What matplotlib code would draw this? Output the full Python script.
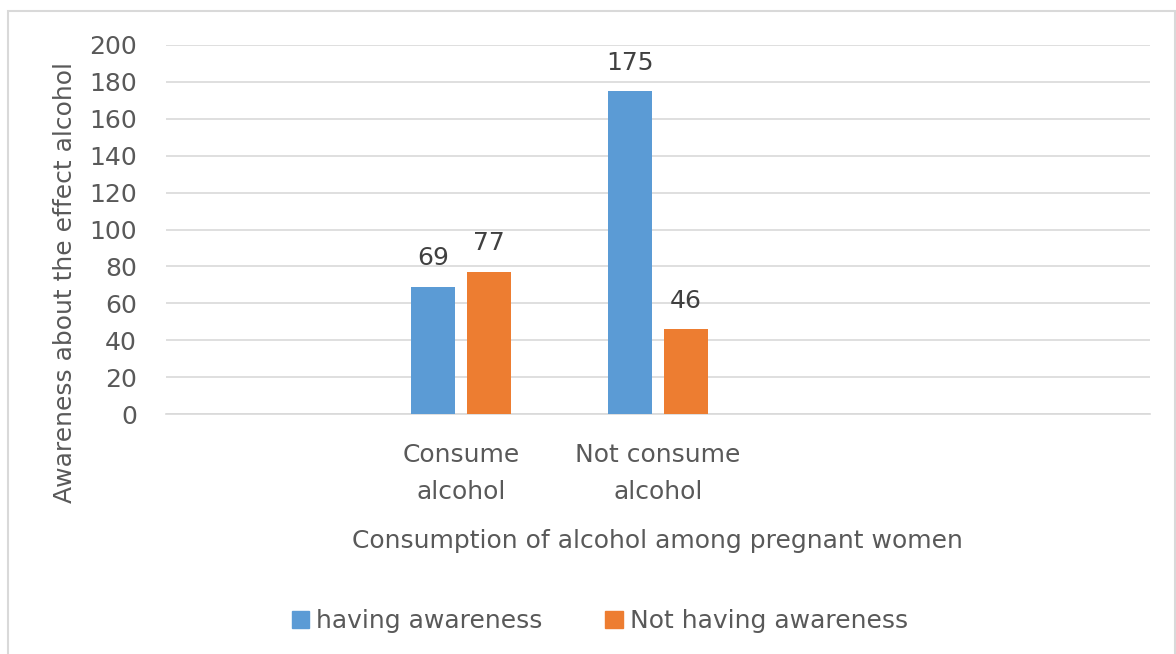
import matplotlib
matplotlib.use("Agg")
import matplotlib.pyplot as plt
from matplotlib.patches import Rectangle
import numpy as np

categories = ["", "Consume\nalcohol", "Not consume\nalcohol", "", ""]
having = [None, 69, 175, None, None]
not_having = [None, 77, 46, None, None]
series_names = ["having awareness", "Not having awareness"]
yticks = [0, 20, 40, 60, 80, 100, 120, 140, 160, 180, 200]

plt.rcParams['font.family'] = ['DejaVu Sans']
txt = '#595959'
blue = '#5b9bd5'
orange = '#ed7d31'
fs = 18

fig = plt.figure(figsize=(11.76, 6.54), dpi=100)
fig.patches.append(Rectangle((8/1176, -0.01), (1175-8)/1176, 1 - 11/654 + 0.01,
                             transform=fig.transFigure, fill=False,
                             edgecolor='#d9d9d9', linewidth=1.5))
ax = fig.add_axes([166/1176, 1-414/654, (1150-166)/1176, (414-45)/654])

x = np.arange(len(categories))
w = 0.223
off = 0.142
for i, (a, b) in enumerate(zip(having, not_having)):
    if a is not None:
        ax.bar(x[i]-off, a, w, color=blue, zorder=3)
        ax.text(x[i]-off, a+9, str(a), ha='center', va='bottom', fontsize=fs, color='#404040')
    if b is not None:
        ax.bar(x[i]+off, b, w, color=orange, zorder=3)
        ax.text(x[i]+off, b+9, str(b), ha='center', va='bottom', fontsize=fs, color='#404040')

ax.set_xlim(-0.5, len(categories)-0.5)
ax.set_ylim(0, 200)
ax.set_yticks(yticks)
ax.set_yticklabels([str(t) for t in yticks], fontsize=fs, color=txt)
ax.set_xticks(x)
ax.set_xticklabels(categories, fontsize=fs, color=txt, linespacing=1.65)
ax.tick_params(axis='both', length=0)
ax.tick_params(axis='y', pad=21)
ax.tick_params(axis='x', pad=21)
ax.grid(axis='y', color='#d9d9d9', linewidth=1.2, zorder=0)
for s in ['top', 'right', 'left']:
    ax.spines[s].set_visible(False)
ax.spines['bottom'].set_color('#d9d9d9')
ax.spines['bottom'].set_linewidth(1.2)

fig.text(65/1176, 1-282/654, "Awareness about the effect alcohol", rotation=90,
         ha='center', va='center', fontsize=fs, color=txt)
fig.text(657/1176, 1-541/654, "Consumption of alcohol among pregnant women",
         ha='center', va='center', fontsize=fs, color=txt)

handles = [Rectangle((0, 0), 1, 1, color=blue), Rectangle((0, 0), 1, 1, color=orange)]
fig.legend(handles, series_names, loc='center', bbox_to_anchor=(600/1176, 1-621/654),
           ncol=2, frameon=False, fontsize=fs, labelcolor=txt, handlelength=0.7,
           handleheight=0.7, handletextpad=0.3, columnspacing=2.5)

fig.savefig("out.png", dpi=100)
